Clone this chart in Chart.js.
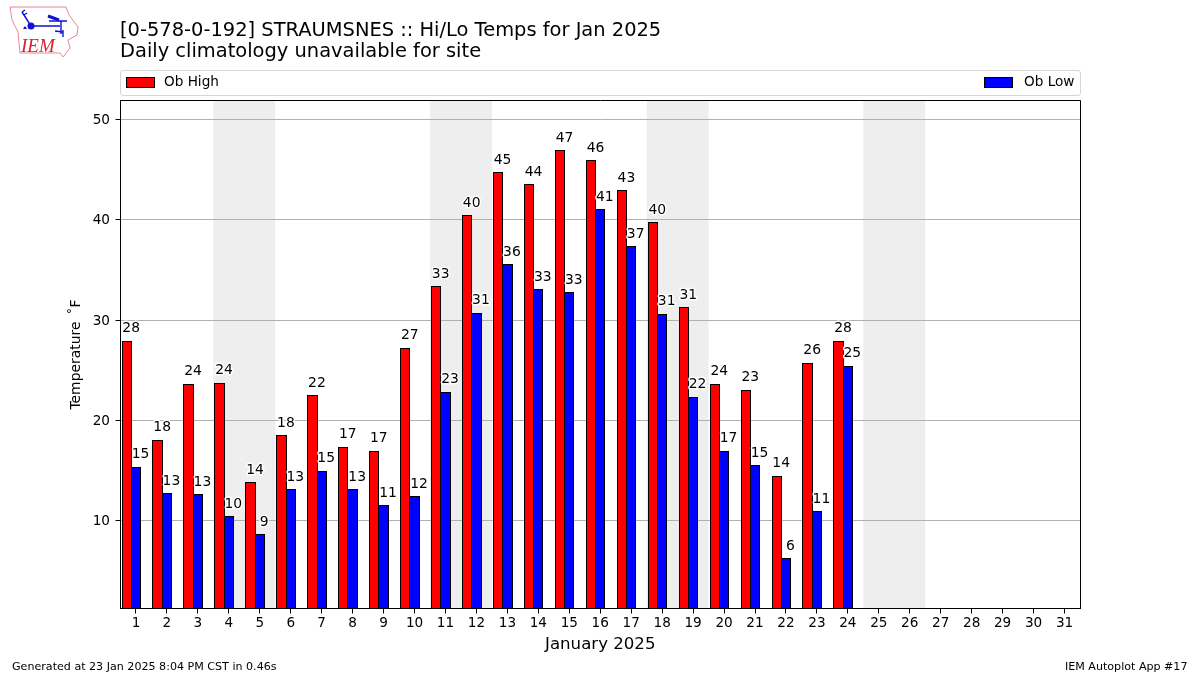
<!DOCTYPE html>
<html>
<head>
<meta charset="utf-8">
<title>Hi/Lo Temps</title>
<script src="https://cdn.jsdelivr.net/npm/chart.js@4"></script>
<style>
html,body{margin:0;padding:0;background:#fff;}
body{width:1200px;height:675px;position:relative;overflow:hidden;font-family:"DejaVu Sans",sans-serif;color:#000;}
canvas{position:absolute;left:0;top:0;}
.abs{position:absolute;white-space:nowrap;}
.title{left:120px;font-size:19.45px;line-height:23px;}
.legendbox{left:120px;top:70px;width:959px;height:24px;border:1px solid #d5d5d5;border-radius:3px;}
.patch{top:77px;width:27px;height:9px;border:1px solid #000;}
.legtext{top:73px;font-size:13.6px;line-height:16px;}
.foot{top:660px;font-size:11.1px;line-height:13px;}
</style>
</head>
<body>
<canvas id="chart" width="1200" height="675"></canvas>
<svg class="abs" style="left:0;top:0" width="90" height="65">
  <path d="M10 7 L66 7 L69 15 L78 27 L77 35 L68 40 L70 48 L63 57 L60 53 L20 53 L18 32 L12 20 Z" fill="none" stroke="#e58a92" stroke-width="1"/>
  <g stroke="#1010d8" fill="none" stroke-width="1.4">
    <path d="M22 12 L31 26 L60 26"/>
    <path d="M22 12 L25 10 M24 15 L27 13"/>
    <path d="M49 21 L67 21 M61 21 L61 34 M55 31 L63 32 M63 37 L63 30"/>
    <path d="M48 16 L59 20" stroke-width="3"/>
  </g>
  <circle cx="31" cy="26" r="3.5" fill="#1010d8"/>
  <path d="M23 29 L25 26 L27 29 Z" fill="#1010d8"/>
  <text x="21" y="52" font-family="Liberation Serif" font-style="italic" font-size="19" fill="#d6202c">IEM</text>
</svg>
<div class="abs title" style="top:18px">[0-578-0-192] STRAUMSNES :: Hi/Lo Temps for Jan 2025</div>
<div class="abs title" style="top:39px">Daily climatology unavailable for site</div>
<div class="abs legendbox"></div>
<div class="abs patch" style="left:126px;background:#f00"></div>
<div class="abs legtext" style="left:164px">Ob High</div>
<div class="abs patch" style="left:984px;background:#00f"></div>
<div class="abs legtext" style="left:1024px">Ob Low</div>
<div class="abs foot" style="left:12px">Generated at 23 Jan 2025 8:04 PM CST in 0.46s</div>
<div class="abs foot" style="right:12.5px">IEM Autoplot App #17</div>
<script>
// values
const days = ['1','2','3','4','5','6','7','8','9','10','11','12','13','14','15','16','17','18','19','20','21','22','23','24','25','26','27','28','29','30','31'];
const obHigh = [27.9,18.0,23.6,23.7,13.8,18.45,22.45,17.3,16.9,27.2,33.3,40.4,44.7,43.5,46.9,45.9,42.9,39.7,31.2,23.6,23.0,14.4,25.7,27.9,null,null,null,null,null,null,null];
const obLow = [15.3,12.7,12.6,10.4,8.6,13.1,14.9,13.1,11.45,12.4,22.8,30.7,35.5,33.0,32.7,41.0,37.3,30.6,22.3,16.9,15.45,6.2,10.9,25.4,null,null,null,null,null,null,null];
const weekendDays = [['4','5'],['11','12'],['18','19'],['25','26']];
const yTicks = [10,20,30,40,50];
const font = 'DejaVu Sans';

const shadePlugin = {
  id:'shade',
  beforeDraw(c){
    const x = c.scales.x, a = c.chartArea, ctx = c.ctx;
    const half = (x.getPixelForValue(1)-x.getPixelForValue(0))/2;
    ctx.save();
    ctx.fillStyle = '#eeeeee';
    weekendDays.forEach(w=>{
      const x0 = x.getPixelForValue(days.indexOf(w[0]))-half;
      const x1 = x.getPixelForValue(days.indexOf(w[1]))+half;
      ctx.fillRect(x0,a.top,x1-x0,a.bottom-a.top);
    });
    ctx.restore();
  },
  afterDatasetsDraw(c){
    const ctx = c.ctx, a = c.chartArea;
    ctx.save();
    // crisp black outlines, the library's inset border goes blurry on fractional pixels
    ctx.strokeStyle = '#000';
    ctx.lineWidth = 1;
    [0,1].forEach(i=>{
      c.getDatasetMeta(i).data.forEach((el,j)=>{
        if(c.data.datasets[i].data[j]===null) return;
        const x0 = Math.floor(el.x-el.width/2)+.5;
        const x1 = Math.floor(el.x+el.width/2)+.5;
        const y0 = Math.floor(el.y)+.5;
        ctx.strokeRect(x0,y0,x1-x0,a.bottom-y0);
      });
    });
    // value labels with a white halo
    ctx.font = '13.9px "'+font+'"';
    ctx.textAlign = 'center';
    ctx.textBaseline = 'middle';
    ctx.lineJoin = 'round';
    [0,1].forEach(i=>{
      c.getDatasetMeta(i).data.forEach((el,j)=>{
        const v = c.data.datasets[i].data[j];
        if(v===null) return;
        const t = String(Math.round(v));
        ctx.lineWidth = 3;
        ctx.strokeStyle = '#fff';
        ctx.strokeText(t,el.x+4.5,el.y-12.5);
        ctx.fillStyle = '#000';
        ctx.fillText(t,el.x+4.5,el.y-12.5);
      });
    });
    // top and right spines
    ctx.strokeStyle = '#000';
    ctx.lineWidth = 1;
    ctx.strokeRect(a.left,a.top,Math.floor(a.right)+.5-a.left,a.bottom-a.top);
    ctx.restore();
  }
};

new Chart(document.getElementById('chart').getContext('2d'),{
  type:'bar',
  data:{
    labels:days,
    datasets:[
      {label:'Ob High',data:obHigh,backgroundColor:'#ff0000',borderWidth:0},
      {label:'Ob Low',data:obLow,backgroundColor:'#0000ff',borderWidth:0},
      // empty third slot, keeps the low bar centred on the tick
      {label:'',data:[],backgroundColor:'rgba(0,0,0,0)'}
    ]
  },
  plugins:[shadePlugin],
  options:{
    responsive:false,
    animation:false,
    events:[],
    categoryPercentage:0.9,
    barPercentage:1,
    layout:{padding:{left:68,right:120,top:100.5,bottom:20.5}},
    plugins:{legend:{display:false},title:{display:false},tooltip:{enabled:false}},
    scales:{
      x:{
        offset:true,
        grid:{offset:false,drawOnChartArea:false,drawTicks:true,tickLength:5,tickColor:'#000'},
        border:{color:'#000'},
        ticks:{autoSkip:false,maxRotation:0,color:'#000',padding:2,font:{family:font,size:13.6}},
        title:{display:true,text:'January 2025',color:'#000',font:{family:font,size:16.6},padding:0},
        afterFit(s){s.height=46;}
      },
      y:{
        min:1.22,
        max:51.9,
        afterBuildTicks(s){s.ticks = yTicks.map(v=>({value:v}));},
        grid:{color:'#b0b0b0',tickLength:5,tickColor:'#000'},
        border:{color:'#000'},
        ticks:{color:'#000',padding:5.5,labelOffset:1,font:{family:font,size:13.6}},
        title:{display:true,text:'Temperature \u2009\u02DAF',color:'#000',font:{family:font,size:13.9},padding:0},
        afterFit(s){s.width=52.5;}
      }
    }
  }
});
</script>
</body>
</html>
